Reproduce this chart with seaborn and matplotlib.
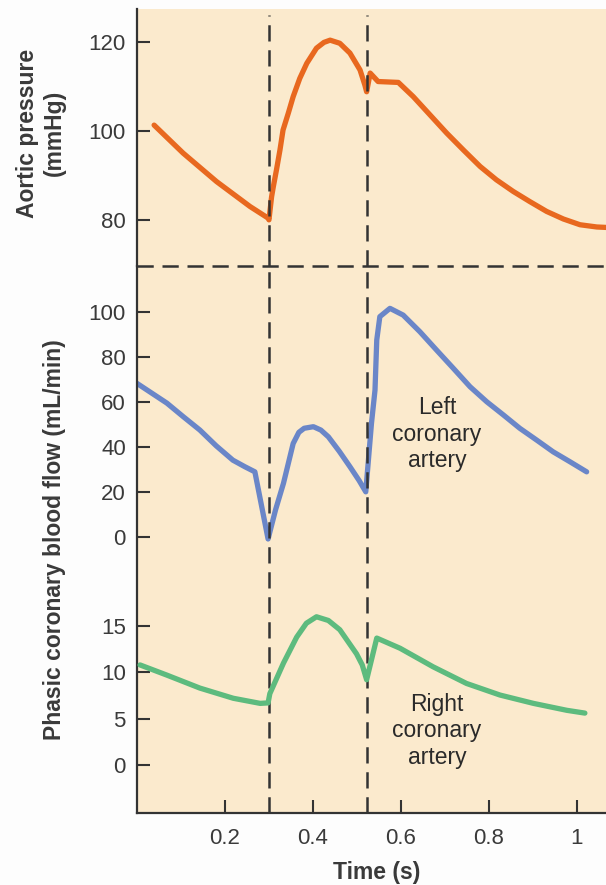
import pandas as pd
import matplotlib
matplotlib.use("Agg")
import matplotlib.pyplot as plt
import seaborn as sns

# Aortic pressure (mmHg) over one cardiac cycle
aortic_t = [0.039, 0.105, 0.181, 0.257, 0.298, 0.30, 0.306, 0.31, 0.317, 0.325,
            0.332, 0.344, 0.355, 0.37, 0.386, 0.408, 0.425, 0.439, 0.461, 0.484,
            0.507, 0.518, 0.522, 0.53, 0.548, 0.594, 0.628, 0.666, 0.704, 0.742,
            0.78, 0.817, 0.855, 0.893, 0.931, 0.969, 1.007, 1.045, 1.066]
aortic_p = [101.3, 95.0, 88.6, 83.0, 80.4, 80.0, 85.2, 87.5, 91.2, 95.7,
            100.2, 104.0, 107.7, 111.8, 115.2, 118.6, 119.9, 120.4, 119.7, 117.5,
            113.7, 110.3, 108.8, 113.0, 111.1, 110.9, 107.7, 103.6, 99.5, 95.7,
            92.0, 89.0, 86.4, 84.1, 81.9, 80.2, 78.9, 78.4, 78.3]

# Left coronary artery flow (mL/min)
left_t = [0.0, 0.068, 0.105, 0.143, 0.18, 0.218, 0.245, 0.268, 0.298, 0.315,
          0.333, 0.355, 0.368, 0.38, 0.401, 0.418, 0.435, 0.46, 0.484, 0.505,
          0.52, 0.533, 0.541, 0.545, 0.552, 0.575, 0.605, 0.643, 0.681, 0.719,
          0.757, 0.795, 0.833, 0.87, 0.908, 0.946, 0.984, 1.022]
left_flow = [68.3, 59.5, 53.5, 47.5, 40.5, 34.1, 31.2, 28.9, -1.0, 12.0,
             23.8, 41.5, 46.5, 48.3, 49.0, 47.5, 44.5, 38.0, 31.2, 25.0,
             20.0, 50.5, 65.3, 87.6, 98.0, 101.7, 98.7, 91.3, 83.1, 75.0,
             66.8, 60.1, 54.2, 48.3, 43.1, 37.8, 33.4, 28.9]

# Right coronary artery flow (mL/min)
right_t = [0.007, 0.068, 0.143, 0.219, 0.28, 0.298, 0.302, 0.333, 0.363, 0.385,
           0.408, 0.435, 0.461, 0.499, 0.512, 0.522, 0.545, 0.598, 0.673, 0.749,
           0.825, 0.901, 0.977, 1.018]
right_flow = [10.8, 9.7, 8.3, 7.2, 6.65, 6.7, 7.7, 11.0, 13.8, 15.3,
              16.0, 15.6, 14.6, 12.0, 10.8, 9.2, 13.7, 12.6, 10.6, 8.8,
              7.55, 6.65, 5.9, 5.6]

valve_times = [0.30, 0.523]
x_ticks = [0.2, 0.4, 0.6, 0.8, 1.0]
x_labels = ["0.2", "0.4", "0.6", "0.8", "1"]

sns.set_style("ticks")
plt.rcParams['font.family'] = ['Liberation Sans', 'DejaVu Sans']

bg = '#fbeacd'
ink = '#333333'
xlim = (0, 1.066)

fig = plt.figure(figsize=(6.06, 8.85), dpi=100)
fig.patch.set_facecolor('#fdfdfd')

ax_top = fig.add_axes([0.226, 0.6998, 0.774, 0.290])
ax_left = fig.add_axes([0.226, 0.0814, 0.774, 0.6184])
ax_right = fig.add_axes([0.226, 0.0814, 0.774, 0.6184])
ax_right.set_facecolor('none')
ax_top.set_zorder(5)  # keep the panel divider on top of the lower panel

for ax in (ax_top, ax_left):
    ax.set_facecolor(bg)

df_a = pd.DataFrame({'t': aortic_t, 'p': aortic_p})
df_l = pd.DataFrame({'t': left_t, 'f': left_flow})
df_r = pd.DataFrame({'t': right_t, 'f': right_flow})

line_kw = dict(linewidth=3.8, estimator=None, solid_capstyle='round',
               solid_joinstyle='round')
sns.lineplot(data=df_a, x='t', y='p', ax=ax_top, color='#e8681f', **line_kw)
sns.lineplot(data=df_l, x='t', y='f', ax=ax_left, color='#6a86c8', **line_kw)
sns.lineplot(data=df_r, x='t', y='f', ax=ax_right, color='#5dbb7e', **line_kw)

ax_top.set_xlim(*xlim)
ax_left.set_xlim(*xlim)
ax_right.set_xlim(*xlim)
ax_top.set_ylim(69.7, 127.4)
ax_left.set_ylim(-123.0, 120.7)
ax_right.set_ylim(-5.18, 53.9)

# dashed markers for valve events
dash = dict(color=ink, linewidth=1.8, dashes=(6.5, 3.5))
for t in valve_times:
    ax_top.axvline(t, ymax=0.977, **dash)
    ax_left.axvline(t, **dash)
ax_top.axhline(69.7, clip_on=False, **dash)

# spines
for ax in (ax_top, ax_left, ax_right):
    for s in ('top', 'right'):
        ax.spines[s].set_visible(False)
ax_top.spines['bottom'].set_visible(False)
ax_right.spines['bottom'].set_visible(False)
ax_right.spines['left'].set_visible(False)
for ax in (ax_top, ax_left):
    ax.spines['left'].set_color(ink)
    ax.spines['left'].set_linewidth(1.6)
ax_left.spines['bottom'].set_color(ink)
ax_left.spines['bottom'].set_linewidth(1.6)

tick_kw = dict(direction='in', length=9.5, width=1.5, color=ink,
               labelsize=16, labelcolor='#3a3a3a', pad=8)
ax_top.set_yticks([80, 100, 120])
ax_top.tick_params(axis='y', **tick_kw)
ax_top.tick_params(axis='x', bottom=False, labelbottom=False)

ax_left.set_yticks([0, 20, 40, 60, 80, 100])
ax_left.tick_params(axis='y', **tick_kw)
ax_left.set_xticks(x_ticks)
ax_left.set_xticklabels(x_labels)
ax_left.tick_params(axis='x', **{**tick_kw, 'pad': 11})

ax_right.set_yticks([0, 5, 10, 15])
ax_right.tick_params(axis='y', **tick_kw)
ax_right.tick_params(axis='x', bottom=False, labelbottom=False)

# axis titles
lab_kw = dict(fontsize=16.5, fontweight='bold', color='#3a3a3a')
ax_top.set_ylabel("Aortic pressure\n(mmHg)", va='center', **lab_kw)
ax_top.yaxis.set_label_coords(-0.205, 0.517)
ax_left.set_ylabel("Phasic coronary blood flow (mL/min)", va='center', **lab_kw)
ax_left.yaxis.set_label_coords(-0.175, 0.499)
ax_right.set_ylabel("")
ax_top.set_xlabel("")
ax_right.set_xlabel("")
ax_left.set_xlabel("Time (s)", va='center', **lab_kw)
ax_left.xaxis.set_label_coords(0.512, -0.1096)

# curve annotations
note_kw = dict(fontsize=16.5, color='#2a2a2a', ha='center', va='center',
               multialignment='center')
ax_left.text(0.682, 45.7, "Left\ncoronary\nartery", **note_kw)
ax_right.text(0.682, 3.67, "Right\ncoronary\nartery", **note_kw)

fig.savefig("out.png", dpi=100, facecolor=fig.get_facecolor())
